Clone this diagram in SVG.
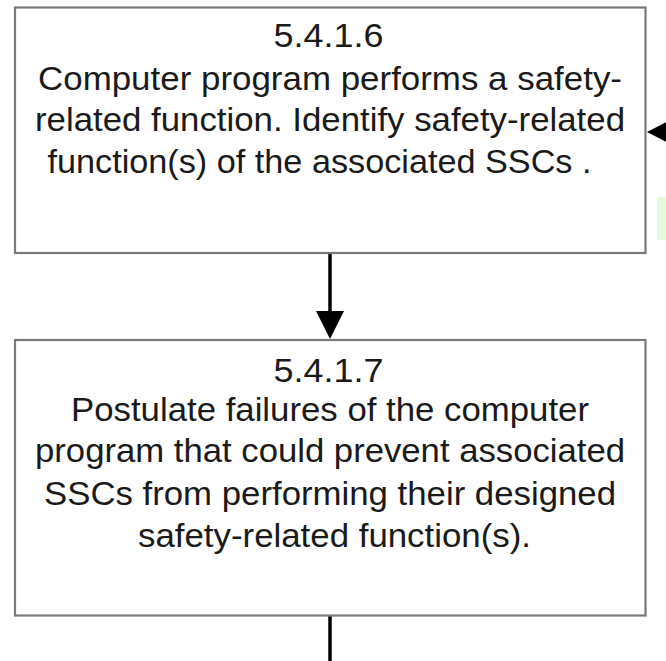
<svg xmlns="http://www.w3.org/2000/svg" width="666" height="661" viewBox="0 0 666 661">
<style>
.box{fill:#ffffff;stroke:#7a7a7a;stroke-width:2.2}
.t{font-family:"Liberation Sans",Arial,sans-serif;font-size:34px;fill:#1a1a1a}
.c{stroke:#000;stroke-width:3.5;fill:none}
.h{fill:#000}
</style>
<rect x="0" y="0" width="666" height="661" fill="#ffffff"/>
<rect x="657" y="197" width="9" height="43" fill="#e6fadc"/>
<g id="connectors">
<line class="c" x1="330" y1="253" x2="330" y2="313"/>
<polygon class="h" points="316,311 344,311 330,339"/>
<line class="c" x1="330" y1="616" x2="330" y2="661"/>
<polygon class="h" points="647,132 676,117 676,147"/>
</g>
<g id="node-5416">
<rect class="box" x="15" y="7.5" width="630.5" height="245.5"/>
<text class="t" x="273.5" y="46.5" textLength="110" lengthAdjust="spacingAndGlyphs">5.4.1.6</text>
<text class="t" x="38" y="89.5" textLength="584" lengthAdjust="spacingAndGlyphs">Computer program performs a safety-</text>
<text class="t" x="35" y="130.5" textLength="590" lengthAdjust="spacingAndGlyphs">related function. Identify safety-related</text>
<text class="t" x="47.5" y="172.5" textLength="544" lengthAdjust="spacingAndGlyphs">function(s) of the associated SSCs .</text>
</g>
<g id="node-5417">
<rect class="box" x="15" y="340" width="630.5" height="275.5"/>
<text class="t" x="273.5" y="381.5" textLength="110" lengthAdjust="spacingAndGlyphs">5.4.1.7</text>
<text class="t" x="71" y="420.5" textLength="518" lengthAdjust="spacingAndGlyphs">Postulate failures of the computer</text>
<text class="t" x="35" y="462" textLength="590" lengthAdjust="spacingAndGlyphs">program that could prevent associated</text>
<text class="t" x="44" y="504.5" textLength="572" lengthAdjust="spacingAndGlyphs">SSCs from performing their designed</text>
<text class="t" x="138" y="546.5" textLength="393" lengthAdjust="spacingAndGlyphs">safety-related function(s).</text>
</g>
</svg>
